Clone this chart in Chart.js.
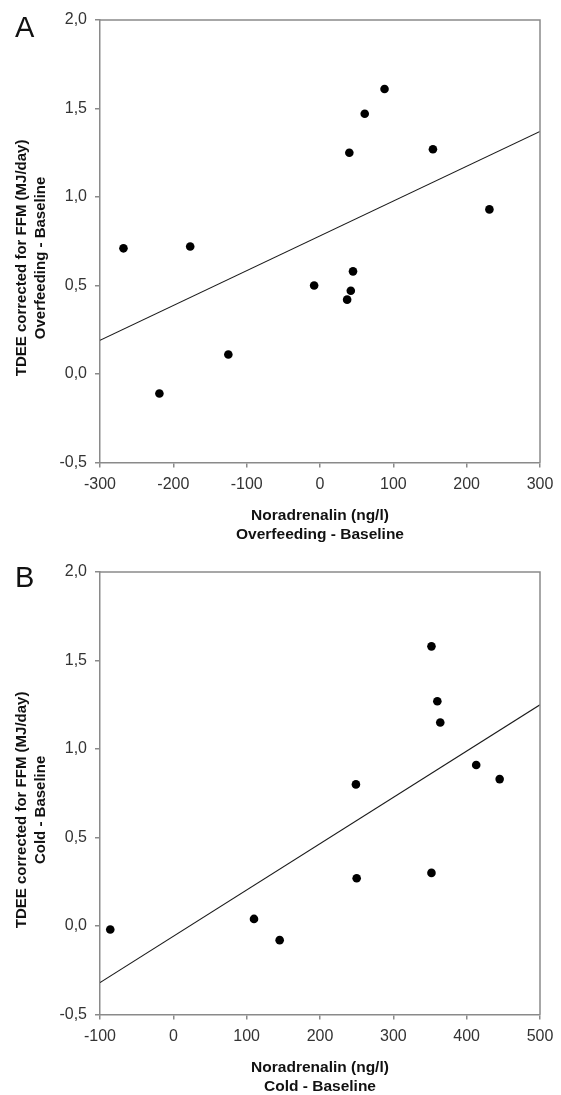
<!DOCTYPE html>
<html>
<head>
<meta charset="utf-8">
<script src="https://cdn.jsdelivr.net/npm/chart.js@4/dist/chart.umd.min.js"></script>
<style>
  html, body { margin: 0; padding: 0; background: #fff; overflow: hidden; }
  body { width: 561px; height: 1095px; position: relative; }
  .panel { position: absolute; left: 0; width: 561px; height: 552px; }
  .lbl { position: absolute; font-family: 'Liberation Sans', Arial, sans-serif; font-size: 29px; color: #111; line-height: 1; }
  canvas { display: block; }
</style>
</head>
<body>
<div class="panel" style="top:0"><canvas id="cA" width="561" height="552"></canvas></div>
<div class="panel" style="top:552px"><canvas id="cB" width="561" height="552"></canvas></div>
<div class="lbl" style="left:15px; top:13px">A</div>
<div class="lbl" style="left:15px; top:563px">B</div>
<script>
// ---- data ----
const xA = [-268, -177, -219, -125, -8, 37, 42, 45, 40, 61, 88, 154, 231];
const yA = [0.71, 0.72, -0.11, 0.11, 0.50, 0.42, 0.47, 0.58, 1.25, 1.47, 1.61, 1.27, 0.93];
const fitAx = [-300, 300];
const fitAy = [0.19, 1.37];

const xB = [-86, 110, 145, 249, 250, 352, 352, 360, 364, 413, 445];
const yB = [-0.02, 0.04, -0.08, 0.80, 0.27, 0.30, 1.58, 1.27, 1.15, 0.91, 0.83];
const fitBx = [-100, 500];
const fitBy = [-0.32, 1.25];

const yTicks = [-0.5, 0.0, 0.5, 1.0, 1.5, 2.0];
const xTicksA = [-300, -200, -100, 0, 100, 200, 300];
const xTicksB = [-100, 0, 100, 200, 300, 400, 500];

const yTitleA = ['TDEE corrected for FFM (MJ/day)', 'Overfeeding - Baseline'];
const xTitleA = ['Noradrenalin (ng/l)', 'Overfeeding - Baseline'];
const yTitleB = ['TDEE corrected for FFM (MJ/day)', 'Cold - Baseline'];
const xTitleB = ['Noradrenalin (ng/l)', 'Cold - Baseline'];

// ---- styling ----
Chart.defaults.font.family = "'Liberation Sans', Arial, Helvetica, sans-serif";
Chart.defaults.color = '#333';
const AXIS = '#8a8a8a';
const PAD = '        '; // shifts the rotated title slightly downwards

const frame = {
  id: 'frame',
  afterDatasetsDraw(chart) {
    const a = chart.chartArea, ctx = chart.ctx;
    ctx.save();
    ctx.strokeStyle = AXIS;
    ctx.lineWidth = 1.5;
    ctx.beginPath();
    ctx.moveTo(a.left, a.top);
    ctx.lineTo(a.right, a.top);
    ctx.lineTo(a.right, a.bottom);
    ctx.stroke();
    ctx.restore();
  }
};

function makeChart(id, xs, ys, fx, fy, xTicks, yT, xT) {
  const pts = xs.map((x, i) => ({ x: x, y: ys[i] }));
  const fit = fx.map((x, i) => ({ x: x, y: fy[i] }));
  return new Chart(document.getElementById(id), {
    type: 'scatter',
    data: {
      datasets: [
        { type: 'line', data: fit, borderColor: '#1a1a1a', borderWidth: 1.1, pointRadius: 0, fill: false, order: 2 },
        { data: pts, backgroundColor: '#000', borderWidth: 0, pointRadius: 4.3, pointHoverRadius: 4.3, order: 1 }
      ]
    },
    options: {
      responsive: false,
      animation: false,
      devicePixelRatio: 1,
      layout: { padding: { left: 0, top: 20, right: 21, bottom: 0 } },
      plugins: { legend: { display: false }, tooltip: { enabled: false } },
      scales: {
        x: {
          type: 'linear',
          min: xTicks[0], max: xTicks[xTicks.length - 1],
          afterBuildTicks: s => { s.ticks = xTicks.map(v => ({ value: v })); },
          afterFit: s => { s.height = 89.5; },
          ticks: { font: { size: 16 }, color: '#333', padding: 7, maxRotation: 0, autoSkip: false,
                   callback: v => String(v) },
          grid: { drawOnChartArea: false, drawTicks: true, tickLength: 5, color: AXIS, lineWidth: 1.5 },
          border: { display: true, color: AXIS, width: 1.5 },
          title: { display: true, text: xT, color: '#111', font: { size: 15.5, weight: 'bold', lineHeight: 1.28 },
                   padding: { top: 0, bottom: 7 } }
        },
        y: {
          type: 'linear',
          min: yTicks[0], max: yTicks[yTicks.length - 1],
          afterBuildTicks: s => { s.ticks = yTicks.map(v => ({ value: v })); },
          afterFit: s => { s.width = 100; },
          ticks: { font: { size: 16 }, color: '#333', padding: 8,
                   callback: v => Number(v).toFixed(1).replace('.', ',') },
          grid: { drawOnChartArea: false, drawTicks: true, tickLength: 5, color: AXIS, lineWidth: 1.5 },
          border: { display: true, color: AXIS, width: 1.5 },
          title: { display: true, text: yT.map(t => t + PAD), color: '#111', font: { size: 15, weight: 'bold', lineHeight: 1.3 },
                   padding: { top: 12, bottom: 0 } }
        }
      }
    },
    plugins: [frame]
  });
}

makeChart('cA', xA, yA, fitAx, fitAy, xTicksA, yTitleA, xTitleA);
makeChart('cB', xB, yB, fitBx, fitBy, xTicksB, yTitleB, xTitleB);
</script>
</body>
</html>
